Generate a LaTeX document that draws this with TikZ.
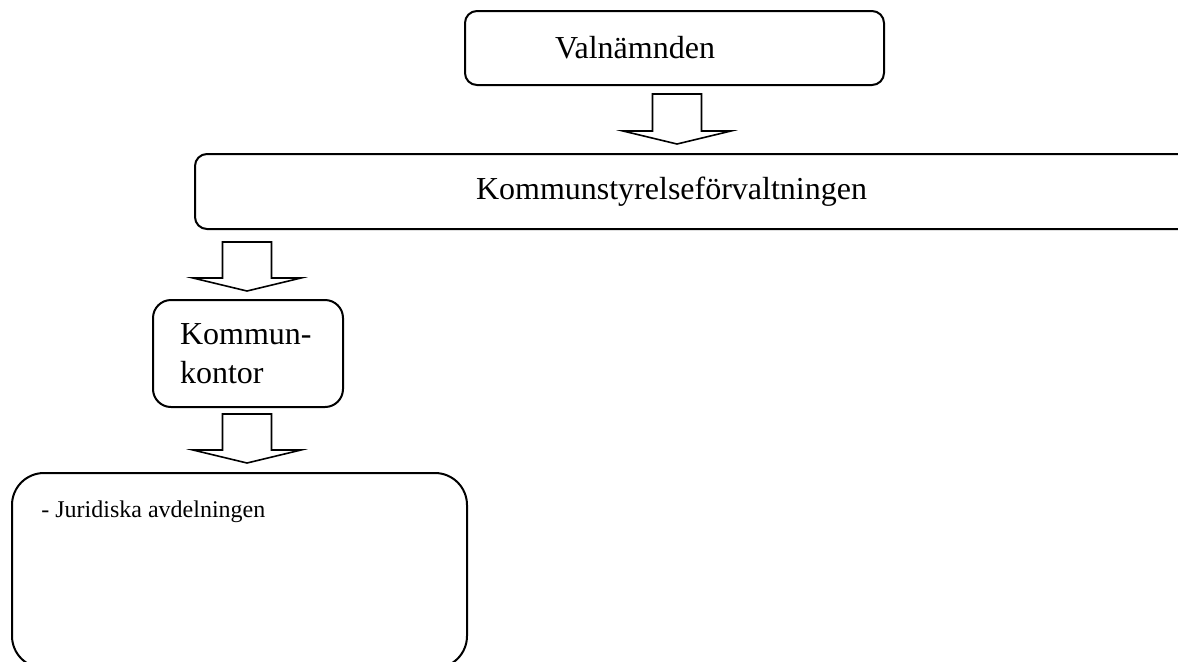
\documentclass[tikz,border=0pt]{standalone}
\usepackage{fontspec}
\setmainfont{Liberation Serif}
\usetikzlibrary{calc}

\tikzset{
  box/.style={draw,line width=1pt,rectangle,inner ysep=0pt,align=left,font=\fontsize{16}{19.5}\selectfont},
  arrowline/.style={draw,line width=0.8pt,fill=white,line join=miter}
}
% outlined block arrow from shaft top #1 to tip #2
\newcommand{\blockarrow}[2]{%
  \draw[arrowline] ($(#1)+(-24.5,0)$) -- ($(#1)+(24.5,0)$) -- ($(#2)+(24.5,-13)$)
    -- ($(#2)+(54,-13)$) -- (#2) -- ($(#2)+(-54,-13)$) -- ($(#2)+(-24.5,-13)$) -- cycle;}

\begin{document}
\begin{tikzpicture}[x=0.5pt,y=-0.5pt]
            \useasboundingbox (0,0) rectangle (1178,661);
            \clip (0,0) rectangle (1178,661);

            \node[box,rounded corners=6pt,minimum width=209.5pt,minimum height=37pt,
                  inner xsep=45pt,text width=119.5pt] (valn) at (674.5,48) {Valnämnden};
            \node[box,rounded corners=6pt,minimum height=37.5pt,anchor=west,
                  inner xsep=140.5pt,text width=250pt] (kstyr) at (194,191.5) {Kommunstyrelseförvaltningen};
            \node[box,rounded corners=9pt,minimum width=95pt,minimum height=53.5pt,
                  inner xsep=13.5pt,text width=68pt] (kkont) at (248,353.5) {Kommun-\\kontor};
            \node[box,rounded corners=16pt,minimum width=227.5pt,minimum height=97.5pt] (jur) at (239.5,570.5) {};
            \node[anchor=base west,inner sep=0pt,font=\fontsize{12}{14}\selectfont] (jurtext)
                  at ($(jur.north west)+(30,45)$) {- Juridiska avdelningen};

            % arrows between the levels
            \coordinate (a1) at ($(valn.south)+(2.5,8)$);
            \coordinate (b1) at ($(a1 |- kstyr.north)+(0,-9)$);
            \coordinate (a2) at ($(kstyr.south west)+(53,12)$);
            \coordinate (b2) at ($(a2 |- kkont.north)+(0,-8)$);
            \coordinate (a3) at ($(kkont.south)+(-1,6)$);
            \coordinate (b3) at ($(a3 |- jur.north)+(0,-9)$);
            \blockarrow{a1}{b1}
            \blockarrow{a2}{b2}
            \blockarrow{a3}{b3}
\end{tikzpicture}
\end{document}
